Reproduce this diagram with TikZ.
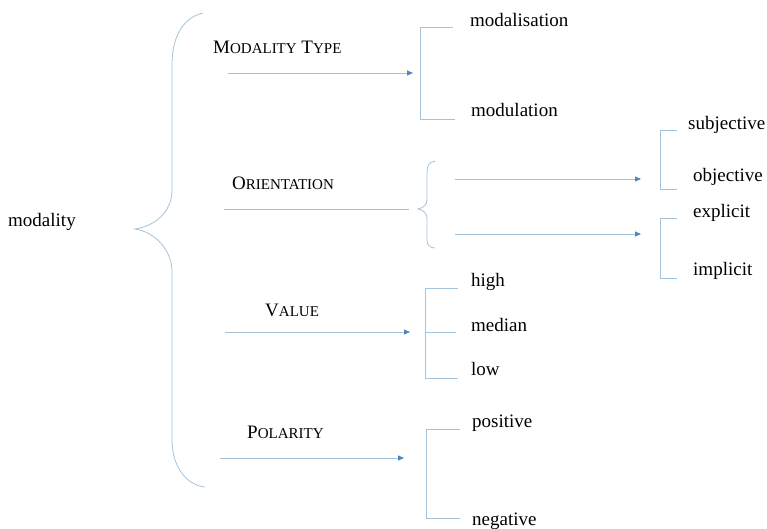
\documentclass[tikz,border=0pt]{standalone}
\usepackage{fontspec}
\setmainfont{Liberation Serif}
\usetikzlibrary{arrows.meta}
\definecolor{linec}{RGB}{165,195,218}
\definecolor{arrc}{RGB}{75,135,195}
\newcommand{\fakesc}[2]{#1{\fontsize{15}{15}\selectfont #2}}
\tikzset{
  lbl/.style={anchor=west, inner sep=0pt, font=\fontsize{19}{19}\selectfont, text height=13pt, text depth=4pt},
  brk/.style={draw=linec, line width=0.8pt},
  conn/.style={draw=linec, line width=0.8pt},
  arr/.style={conn, -{Triangle[length=6pt,width=5pt,color=arrc]}},
}
\begin{document}
\begin{tikzpicture}[x=1pt,y=-1pt]
\useasboundingbox (0,0) rectangle (767,529);
% labels
\node[lbl] (modality) at (8,222) {modality};
\node[lbl] (mtype) at (213,49) {\fakesc{M}{ODALITY} \fakesc{T}{YPE}};
\node[lbl] (orient) at (232,185) {\fakesc{O}{RIENTATION}};
\node[lbl] (value) at (265,312) {\fakesc{V}{ALUE}};
\node[lbl] (polar) at (247,434) {\fakesc{P}{OLARITY}};
\node[lbl] (modalis) at (470,22) {modalisation};
\node[lbl] (modul) at (471,112) {modulation};
\node[lbl] (subj) at (688,125) {subjective};
\node[lbl] (obj) at (693,177) {objective};
\node[lbl] (expl) at (693,213) {explicit};
\node[lbl] (impl) at (693,271) {implicit};
\node[lbl] (high) at (471,282) {high};
\node[lbl] (median) at (471,327) {median};
\node[lbl] (low) at (471,371) {low};
\node[lbl] (pos) at (472,423) {positive};
\node[lbl] (neg) at (472,521) {negative};
% big brace
\coordinate (bbT) at (203,13);
\coordinate (bbP) at (135,229);
\coordinate (bbB) at (205,487);
\draw[brk] (bbT) .. controls (182,18) and (172,38) .. (172,65) -- (172,190)
  .. controls (172,212) and (155,226) .. (bbP)
  .. controls (155,232) and (172,250) .. (172,272) -- (172,440)
  .. controls (172,466) and (186,485) .. (bbB);
% modality type
\coordinate (mtA) at (228,73);
\coordinate (mtB) at (413,73);
\draw[arr] (mtA) -- (mtB);
\coordinate (mtT) at (420,27);
\coordinate (mtU) at (420,119);
\draw[brk] (453,27) -- (mtT) -- (mtU) -- (455,119);
% orientation
\coordinate (orA) at (224,209);
\coordinate (orP) at (418,209);
\draw[conn] (orA) -- (409,209);
\draw[brk] (435,161) .. controls (429,162) and (427,166) .. (427,172) -- (427,200)
  .. controls (427,205) and (423,208) .. (orP)
  .. controls (423,210) and (427,213) .. (427,218) -- (427,240)
  .. controls (427,245) and (430,248) .. (435,248);
\coordinate (o1A) at (455,179);
\coordinate (o1B) at (641,179);
\coordinate (o2A) at (455,234);
\coordinate (o2B) at (641,234);
\draw[arr] (o1A) -- (o1B);
\draw[arr] (o2A) -- (o2B);
\coordinate (s1T) at (660,130);
\coordinate (s1B) at (660,189);
\draw[brk] (677,130) -- (s1T) -- (s1B) -- (677,189);
\coordinate (s2T) at (660,218);
\coordinate (s2B) at (660,278);
\draw[brk] (677,218) -- (s2T) -- (s2B) -- (677,278);
% value
\coordinate (vaA) at (225,332);
\coordinate (vaB) at (410,332);
\draw[arr] (vaA) -- (vaB);
\coordinate (vT) at (425,288);
\coordinate (vM) at (425,332);
\coordinate (vB) at (425,378);
\draw[brk] (458,288) -- (vT) -- (vB) -- (458,378);
\draw[brk] (vM) -- (456,332);
% polarity
\coordinate (poA) at (220,458);
\coordinate (poB) at (404,458);
\draw[arr] (poA) -- (poB);
\coordinate (pT) at (426,429);
\coordinate (pB) at (426,518);
\draw[brk] (460,429) -- (pT) -- (pB) -- (460,518);
\end{tikzpicture}
\end{document}
